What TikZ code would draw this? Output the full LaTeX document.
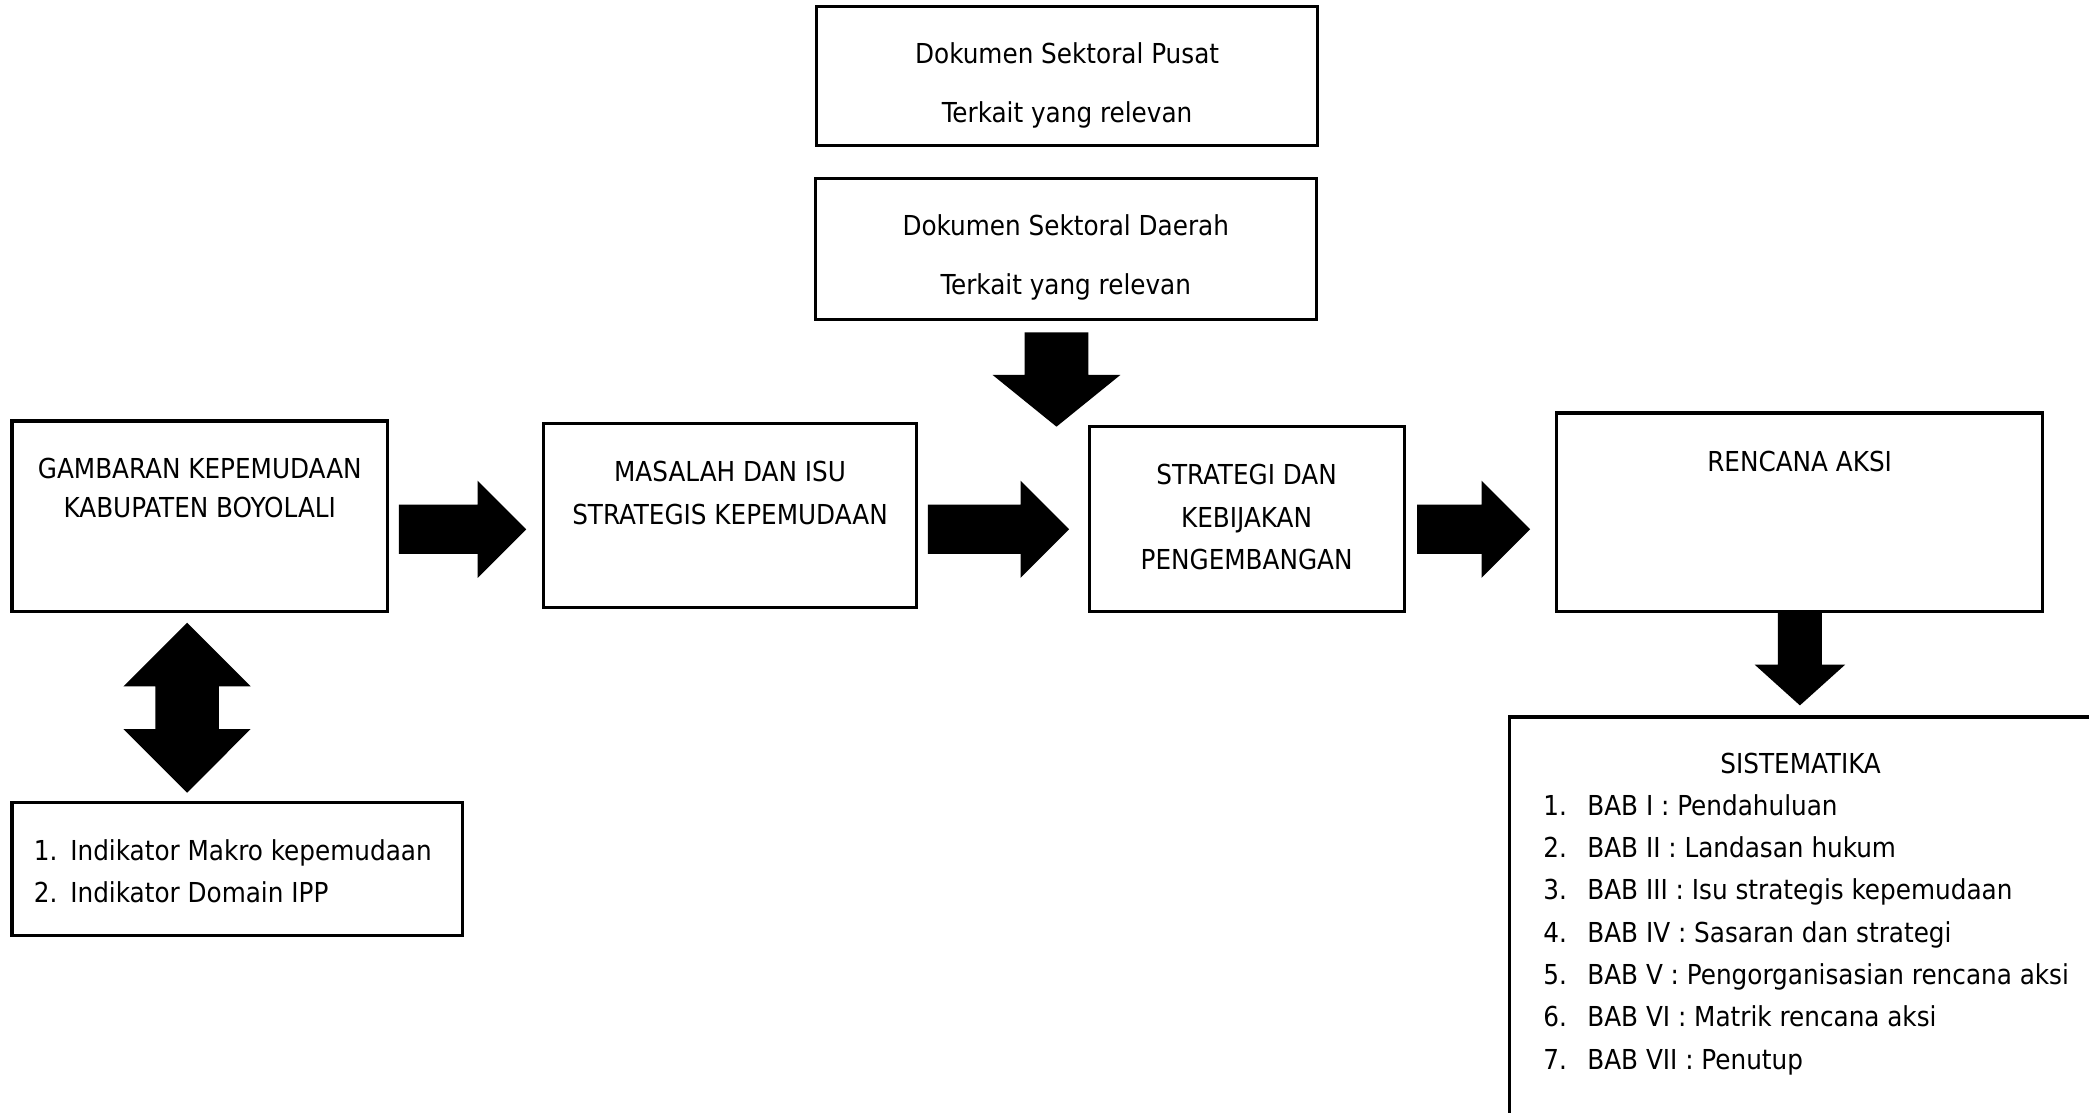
\documentclass[tikz,border=0pt]{standalone}
\usepackage{fontspec}
\setmainfont{DejaVu Sans Condensed}
\usetikzlibrary{shapes.arrows}

\newcommand\upx{0.15mm}
\newcommand\fs[1]{\fontsize{8.8pt}{#1}\selectfont}

\tikzset{
  box/.style={draw, line width=1pt, inner sep=0pt},
  txt/.style={inner sep=0pt, align=center, anchor=north},
  list/.style={inner sep=0pt, align=left, anchor=north west},
  fatarrow/.style={single arrow, fill=black, anchor=tail, inner xsep=0pt, single arrow head indent=0pt},
  twinarrow/.style={double arrow, fill=black, inner xsep=0pt, double arrow head indent=0pt},
}

\begin{document}
\begin{tikzpicture}[x=0.15mm, y=-0.15mm]
  \useasboundingbox (0,0) rectangle (1568,835);

  % dokumen sektoral
  \node[box, minimum width=376*\upx, minimum height=104*\upx] (pusat) at (801,57) {};
  \node[txt, font=\fs{6.6mm}] (pusatteks) at (801,31.6)
    {Dokumen Sektoral Pusat\\Terkait yang relevan};
  \node[box, minimum width=376*\upx, minimum height=106*\upx] (daerah) at (800,186.8) {};
  \node[txt, font=\fs{6.55mm}] (daerahteks) at (800,160.9)
    {Dokumen Sektoral Daerah\\Terkait yang relevan};

  % alur utama
  \node[box, minimum width=282*\upx, minimum height=143*\upx] (gambaran) at (150,387.5) {};
  \node[txt, font=\fs{4.43mm}] (gambaranteks) at (150,343.5)
    {GAMBARAN KEPEMUDAAN\\KABUPATEN BOYOLALI};
  \node[box, minimum width=280*\upx, minimum height=138*\upx] (masalah) at (548,387) {};
  \node[txt, font=\fs{4.77mm}] (masalahteks) at (548,345.8)
    {MASALAH DAN ISU\\STRATEGIS KEPEMUDAAN};
  \node[box, minimum width=236*\upx, minimum height=139*\upx] (strategi) at (936,389.7) {};
  \node[txt, font=\fs{4.8mm}] (strategiteks) at (935.7,347.8)
    {STRATEGI DAN\\KEBIJAKAN\\PENGEMBANGAN};
  \node[box, minimum width=365*\upx, minimum height=149*\upx] (rencana) at (1350.5,384.5) {};
  \node[txt, font=\fs{4.5mm}] (rencanateks) at (1350.8,338) {RENCANA AKSI};

  % indikator
  \node[box, minimum width=338*\upx, minimum height=100*\upx] (indikator) at (178,652.5) {};
  \node[list, font=\fs{4.8mm}] (indikatorteks) at (25,629.5)
    {\makebox[4.1mm][l]{1.}Indikator Makro kepemudaan\\
     \makebox[4.1mm][l]{2.}Indikator Domain IPP};

  % sistematika (terpotong di tepi)
  \node[box, anchor=north west, minimum width=480*\upx, minimum height=330*\upx] (sistematika) at (1132,537) {};
  \node[txt, font=\fs{4.5mm}] (sistematikajudul) at (1351.6,564.5) {SISTEMATIKA};
  \node[list, font=\fs{4.77mm}] (sistematikateks) at (1158,595.7)
    {\makebox[4.95mm][l]{1.}BAB I : Pendahuluan\\
     \makebox[4.95mm][l]{2.}BAB II : Landasan hukum\\
     \makebox[4.95mm][l]{3.}BAB III : Isu strategis kepemudaan\\
     \makebox[4.95mm][l]{4.}BAB IV : Sasaran dan strategi\\
     \makebox[4.95mm][l]{5.}BAB V : Pengorganisasian rencana aksi\\
     \makebox[4.95mm][l]{6.}BAB VI : Matrik rencana aksi\\
     \makebox[4.95mm][l]{7.}BAB VII : Penutup};

  % panah blok
  \node[fatarrow, minimum height=95.5*\upx, inner ysep=18*\upx,
        single arrow head extend=18*\upx, single arrow tip angle=90] (panah1) at (299,397.3) {};
  \node[fatarrow, minimum height=106*\upx, inner ysep=18*\upx,
        single arrow head extend=18*\upx, single arrow tip angle=90] (panah2) at (696,397.3) {};
  \node[fatarrow, minimum height=84.7*\upx, inner ysep=18*\upx,
        single arrow head extend=18*\upx, single arrow tip angle=90] (panah3) at (1063.3,397.3) {};
  \node[fatarrow, rotate=-90, minimum height=70.8*\upx, inner ysep=23.4*\upx,
        single arrow head extend=24.1*\upx, single arrow tip angle=102] (panahdaerah) at (793,249) {};
  \node[fatarrow, rotate=-90, minimum height=70*\upx, inner ysep=16*\upx,
        single arrow head extend=17.5*\upx, single arrow tip angle=96] (panahrencana) at (1351,459) {};
  \node[twinarrow, rotate=90, minimum height=127.6*\upx, inner ysep=23.4*\upx,
        double arrow head extend=23.85*\upx, double arrow tip angle=90] (panahindikator) at (140.4,531.2) {};
\end{tikzpicture}
\end{document}
